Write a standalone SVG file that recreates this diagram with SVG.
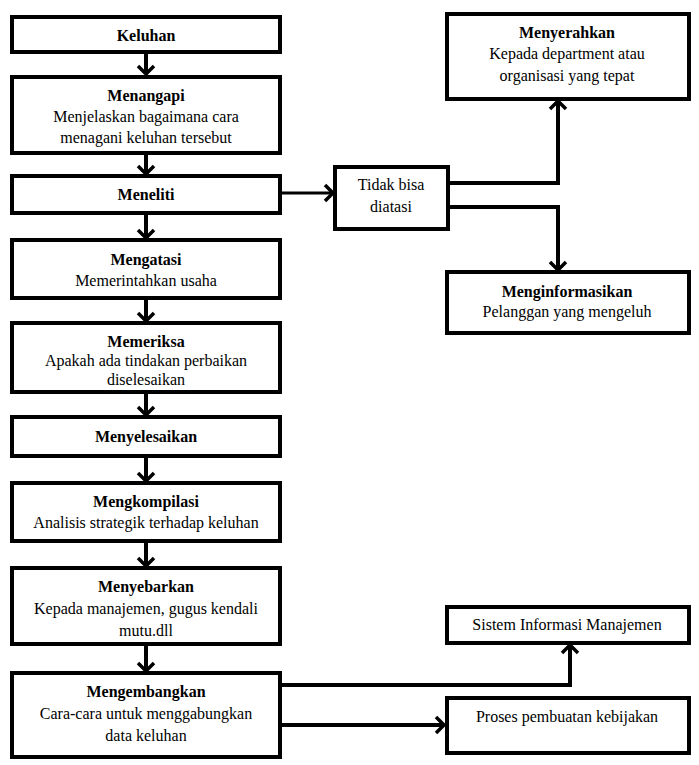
<svg xmlns="http://www.w3.org/2000/svg" width="699" height="765" viewBox="0 0 699 765">
<style>
.box{fill:#fff;stroke:#000;stroke-width:4}
.t{font-size:16px;fill:#000;text-anchor:middle}
.b{font-weight:bold}
.c{fill:none;stroke:#000;stroke-width:4}
</style>
<defs>
<marker id="arr" viewBox="0 0 12 20" refX="10" refY="10" markerWidth="12" markerHeight="20" markerUnits="userSpaceOnUse" orient="auto">
<path d="M2,2 L10,10 L2,18" fill="none" stroke="#000" stroke-width="3.5"/>
</marker>
</defs>
<rect width="699" height="765" fill="#fff"/>
<g id="connectors">
<path class="c" d="M146,54 V74" marker-end="url(#arr)"/>
<path class="c" d="M146,155 V174" marker-end="url(#arr)"/>
<path class="c" d="M146,215 V238" marker-end="url(#arr)"/>
<path class="c" d="M146,300 V321" marker-end="url(#arr)"/>
<path class="c" d="M146,394 V415" marker-end="url(#arr)"/>
<path class="c" d="M146,458 V481" marker-end="url(#arr)"/>
<path class="c" d="M146,543 V566" marker-end="url(#arr)"/>
<path class="c" d="M146,646 V671" marker-end="url(#arr)"/>
<path class="c" style="stroke-width:3" d="M282,193 H333" marker-end="url(#arr)"/>
<path class="c" d="M450,183 H558 V101" marker-end="url(#arr)"/>
<path class="c" d="M450,207 H558 V270" marker-end="url(#arr)"/>
<path class="c" d="M282,685 H570 V645" marker-end="url(#arr)"/>
<path class="c" d="M282,725 H444" marker-end="url(#arr)"/>
</g>
<g font-family="'Liberation Serif', 'Times New Roman', 'DejaVu Serif', serif">
<g id="keluhan"><rect class="box" x="12" y="17" width="268" height="35"/><text class="t b" x="146" y="41">Keluhan</text></g>
<g id="menangapi"><rect class="box" x="12" y="77" width="268" height="76"/><text class="t b" x="146" y="101">Menangapi</text><text class="t" x="146" y="122">Menjelaskan bagaimana cara</text><text class="t" x="146" y="143">menagani keluhan tersebut</text></g>
<g id="meneliti"><rect class="box" x="12" y="176" width="268" height="37"/><text class="t b" x="146" y="200">Meneliti</text></g>
<g id="mengatasi"><rect class="box" x="12" y="240" width="268" height="58"/><text class="t b" x="146" y="265">Mengatasi</text><text class="t" x="146" y="286">Memerintahkan usaha</text></g>
<g id="memeriksa"><rect class="box" x="12" y="323" width="268" height="69"/><text class="t b" x="146" y="347">Memeriksa</text><text class="t" x="146" y="366">Apakah ada tindakan perbaikan</text><text class="t" x="146" y="385">diselesaikan</text></g>
<g id="menyelesaikan"><rect class="box" x="12" y="417" width="268" height="39"/><text class="t b" x="146" y="442">Menyelesaikan</text></g>
<g id="mengkompilasi"><rect class="box" x="12" y="483" width="268" height="58"/><text class="t b" x="146" y="507">Mengkompilasi</text><text class="t" x="146" y="528">Analisis strategik terhadap keluhan</text></g>
<g id="menyebarkan"><rect class="box" x="12" y="568" width="268" height="76"/><text class="t b" x="146" y="592">Menyebarkan</text><text class="t" x="146" y="614">Kepada manajemen, gugus kendali</text><text class="t" x="146" y="636">mutu.dll</text></g>
<g id="mengembangkan"><rect class="box" x="12" y="673" width="268" height="84"/><text class="t b" x="146" y="697">Mengembangkan</text><text class="t" x="146" y="719">Cara-cara untuk menggabungkan</text><text class="t" x="146" y="741">data keluhan</text></g>
<g id="tidakbisa"><rect class="box" x="335" y="167" width="113" height="62"/><text class="t" x="391" y="190">Tidak bisa</text><text class="t" x="391" y="212">diatasi</text></g>
<g id="menyerahkan"><rect class="box" x="447" y="14" width="242" height="85"/><text class="t b" x="567" y="38">Menyerahkan</text><text class="t" x="567" y="59">Kepada department atau</text><text class="t" x="567" y="81">organisasi yang tepat</text></g>
<g id="menginformasikan"><rect class="box" x="447" y="272" width="242" height="61"/><text class="t b" x="567" y="297">Menginformasikan</text><text class="t" x="567" y="317">Pelanggan yang mengeluh</text></g>
<g id="sim"><rect class="box" x="447" y="607" width="242" height="36"/><text class="t" x="567" y="630">Sistem Informasi Manajemen</text></g>
<g id="proses"><rect class="box" x="447" y="698" width="242" height="55"/><text class="t" x="567" y="722">Proses pembuatan kebijakan</text></g>
</g>
</svg>
